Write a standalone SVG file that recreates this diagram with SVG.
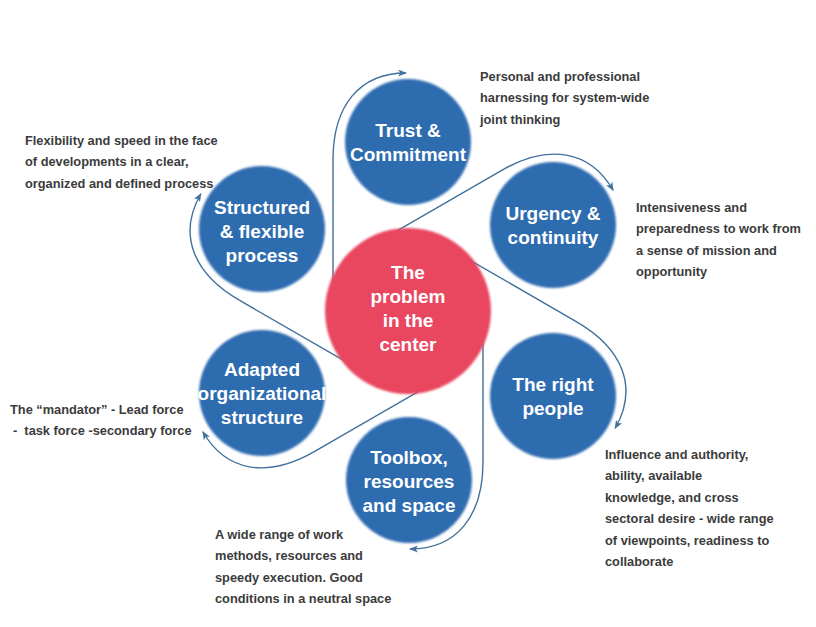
<svg xmlns="http://www.w3.org/2000/svg" width="816" height="627" viewBox="0 0 816 627">
<defs>
<style>
.conn{fill:none;stroke:#41719C;stroke-width:1.4}
.blue{fill:#2F6CB0}
.red{fill:#E9465F}
.ct{font-family:"Liberation Sans",Arial,sans-serif;font-weight:bold;font-size:19px;fill:#ffffff;text-anchor:middle}
.dt{font-family:"Liberation Sans",Arial,sans-serif;font-weight:bold;font-size:12.8px;fill:#3b3b3b}
</style>
<marker id="arr" viewBox="0 0 10 8" refX="9" refY="4" markerWidth="9" markerHeight="7" markerUnits="userSpaceOnUse" orient="auto">
<path d="M0,0 L10,4 L0,8 L2.5,4 z" fill="#41719C"/>
</marker>
<filter id="soft" x="-10%" y="-10%" width="120%" height="120%">
<feGaussianBlur stdDeviation="1"/>
</filter>
<path id="base" d="M333,291 V160 C333,105 360,73 406,73"/>
</defs>
<rect width="816" height="627" fill="#ffffff"/>
<g id="connectors">
<use href="#base" class="conn" marker-end="url(#arr)"/>
<use href="#base" class="conn" marker-end="url(#arr)" transform="rotate(60 408 311)"/>
<use href="#base" class="conn" marker-end="url(#arr)" transform="rotate(120 408 311)"/>
<use href="#base" class="conn" marker-end="url(#arr)" transform="rotate(180 408 311)"/>
<use href="#base" class="conn" marker-end="url(#arr)" transform="rotate(240 408 311)"/>
<use href="#base" class="conn" marker-end="url(#arr)" transform="rotate(300 408 311)"/>
</g>
<g id="center">
<circle cx="408" cy="311" r="83" class="red" filter="url(#soft)"/>
<text class="ct" font-size="19.5"><tspan x="408" y="279">The</tspan><tspan x="408" y="303">problem</tspan><tspan x="408" y="327">in the</tspan><tspan x="408" y="351">center</tspan></text>
</g>
<g id="trust">
<circle cx="408" cy="142" r="63" class="blue" filter="url(#soft)"/>
<text class="ct"><tspan x="408" y="137">Trust &amp;</tspan><tspan x="408" y="161">Commitment</tspan></text>
</g>
<g id="urgency">
<circle cx="553" cy="225" r="63" class="blue" filter="url(#soft)"/>
<text class="ct"><tspan x="553" y="220">Urgency &amp;</tspan><tspan x="553" y="244">continuity</tspan></text>
</g>
<g id="people">
<circle cx="553" cy="396" r="63" class="blue" filter="url(#soft)"/>
<text class="ct"><tspan x="553" y="391">The right</tspan><tspan x="553" y="415">people</tspan></text>
</g>
<g id="toolbox">
<circle cx="409" cy="480" r="63" class="blue" filter="url(#soft)"/>
<text class="ct"><tspan x="409" y="464">Toolbox,</tspan><tspan x="409" y="488">resources</tspan><tspan x="409" y="512">and space</tspan></text>
</g>
<g id="adapted">
<circle cx="262" cy="393" r="63" class="blue" filter="url(#soft)"/>
<text class="ct"><tspan x="262" y="376">Adapted</tspan><tspan x="262" y="400">organizational</tspan><tspan x="262" y="424">structure</tspan></text>
</g>
<g id="structured">
<circle cx="262" cy="229" r="63" class="blue" filter="url(#soft)"/>
<text class="ct"><tspan x="262" y="214">Structured</tspan><tspan x="262" y="238">&amp; flexible</tspan><tspan x="262" y="262">process</tspan></text>
</g>
<g id="labels">
<text class="dt"><tspan x="480" y="80.5">Personal and professional</tspan><tspan x="480" y="102">harnessing for system-wide</tspan><tspan x="480" y="123.5">joint thinking</tspan></text>
<text class="dt"><tspan x="25" y="144.5">Flexibility and speed in the face</tspan><tspan x="25" y="166">of developments in a clear,</tspan><tspan x="25" y="187.5">organized and defined process</tspan></text>
<text class="dt"><tspan x="636" y="211.5">Intensiveness and</tspan><tspan x="636" y="233">preparedness to work from</tspan><tspan x="636" y="254.5">a sense of mission and</tspan><tspan x="636" y="276">opportunity</tspan></text>
<text class="dt" xml:space="preserve"><tspan x="10" y="413.5">The “mandator” - Lead force</tspan><tspan x="13" y="435">-  task force -secondary force</tspan></text>
<text class="dt"><tspan x="605" y="458.5">Influence and authority,</tspan><tspan x="605" y="480">ability, available</tspan><tspan x="605" y="501.5">knowledge, and cross</tspan><tspan x="605" y="523">sectoral desire - wide range</tspan><tspan x="605" y="544.5">of viewpoints, readiness to</tspan><tspan x="605" y="566">collaborate</tspan></text>
<text class="dt"><tspan x="215" y="538.5">A wide range of work</tspan><tspan x="215" y="560">methods, resources and</tspan><tspan x="215" y="581.5">speedy execution. Good</tspan><tspan x="215" y="603">conditions in a neutral space</tspan></text>
</g>
</svg>
